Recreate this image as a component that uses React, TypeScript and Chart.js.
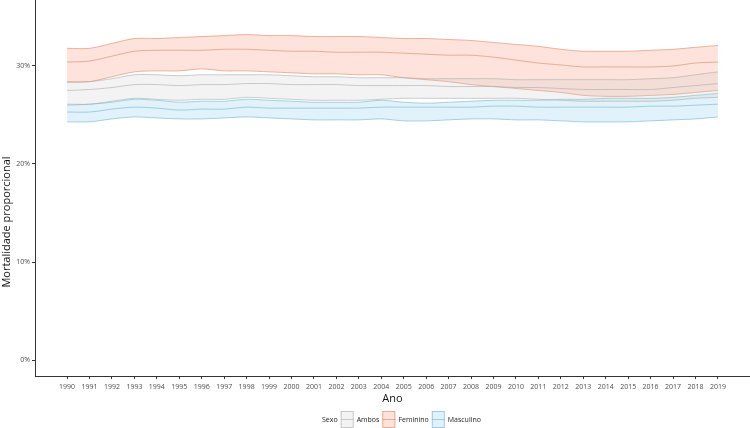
import React, { useEffect, useRef } from "react";
import { Chart, registerables } from "chart.js";

Chart.register(...registerables);

const years = [1990, 1991, 1992, 1993, 1994, 1995, 1996, 1997, 1998, 1999, 2000, 2001, 2002, 2003, 2004, 2005, 2006, 2007, 2008, 2009, 2010, 2011, 2012, 2013, 2014, 2015, 2016, 2017, 2018, 2019];

const femUpper = [31.8, 31.8, 32.3, 32.8, 32.8, 32.9, 33.0, 33.1, 33.2, 33.1, 33.1, 33.0, 33.0, 33.0, 32.9, 32.8, 32.8, 32.7, 32.6, 32.4, 32.2, 32.0, 31.7, 31.5, 31.5, 31.5, 31.6, 31.7, 31.9, 32.1];
const femMid = [30.4, 30.5, 31.0, 31.5, 31.6, 31.6, 31.6, 31.7, 31.7, 31.6, 31.5, 31.5, 31.4, 31.4, 31.4, 31.3, 31.2, 31.1, 31.1, 30.9, 30.6, 30.3, 30.1, 29.9, 29.9, 29.9, 29.9, 30.0, 30.3, 30.4];
const femLower = [28.4, 28.4, 28.9, 29.4, 29.5, 29.5, 29.7, 29.5, 29.5, 29.4, 29.3, 29.2, 29.2, 29.1, 29.1, 28.8, 28.6, 28.4, 28.1, 27.9, 27.7, 27.5, 27.3, 27.0, 26.9, 26.9, 27.0, 27.1, 27.3, 27.5];

const ambosUpper = [28.3, 28.4, 28.7, 29.1, 29.1, 29.0, 29.1, 29.1, 29.1, 29.1, 29.0, 28.9, 28.9, 28.8, 28.8, 28.8, 28.7, 28.7, 28.7, 28.7, 28.6, 28.6, 28.6, 28.6, 28.6, 28.6, 28.7, 28.8, 29.1, 29.4];
const ambosMid = [27.5, 27.6, 27.8, 28.1, 28.1, 28.0, 28.1, 28.1, 28.2, 28.2, 28.1, 28.1, 28.1, 28.0, 28.0, 28.0, 28.0, 27.9, 27.9, 27.9, 27.8, 27.8, 27.7, 27.6, 27.6, 27.6, 27.6, 27.8, 28.0, 28.2];
const ambosLower = [26.1, 26.1, 26.4, 26.7, 26.6, 26.5, 26.6, 26.6, 26.8, 26.7, 26.6, 26.5, 26.5, 26.5, 26.6, 26.7, 26.7, 26.7, 26.7, 26.7, 26.7, 26.6, 26.5, 26.4, 26.4, 26.4, 26.4, 26.5, 26.7, 26.8];

const mascUpper = [26.0, 26.1, 26.3, 26.6, 26.5, 26.3, 26.4, 26.4, 26.6, 26.5, 26.4, 26.3, 26.3, 26.3, 26.5, 26.3, 26.2, 26.3, 26.4, 26.5, 26.5, 26.5, 26.6, 26.6, 26.7, 26.7, 26.7, 26.8, 27.0, 27.2];
const mascMid = [25.3, 25.3, 25.6, 25.8, 25.7, 25.5, 25.6, 25.6, 25.8, 25.7, 25.7, 25.7, 25.7, 25.7, 25.8, 25.8, 25.8, 25.8, 25.8, 25.9, 25.9, 25.8, 25.8, 25.8, 25.8, 25.8, 25.9, 25.9, 26.0, 26.1];
const mascLower = [24.3, 24.3, 24.6, 24.8, 24.7, 24.6, 24.6, 24.7, 24.8, 24.7, 24.6, 24.5, 24.5, 24.5, 24.6, 24.4, 24.4, 24.5, 24.6, 24.6, 24.5, 24.5, 24.4, 24.3, 24.3, 24.3, 24.4, 24.5, 24.6, 24.8];

const yTicks = [0, 10, 20, 30];
const seriesNames = ["Ambos", "Feminino", "Masculino"];
const legendTitle = "Sexo";
const xTitle = "Ano";
const yTitle = "Mortalidade proporcional";

const FONT = "'Open Sans', 'DejaVu Sans', sans-serif";

export default function App() {
  const ref = useRef<HTMLCanvasElement>(null);

  useEffect(() => {
    const canvas = ref.current;
    if (!canvas) return;

    const mk = (vals: number[]) => years.map((y, i) => ({ x: y, y: vals[i] }));

    const groups = [
      { name: seriesNames[0], lower: ambosLower, mid: ambosMid, upper: ambosUpper, line: "rgba(170,170,170,0.85)", fill: "rgba(200,200,200,0.22)" },
      { name: seriesNames[1], lower: femLower, mid: femMid, upper: femUpper, line: "rgba(222,125,90,0.8)", fill: "rgba(245,140,105,0.24)" },
      { name: seriesNames[2], lower: mascLower, mid: mascMid, upper: mascUpper, line: "rgba(110,180,210,0.85)", fill: "rgba(130,200,235,0.24)" },
    ];

    const datasets: any[] = [];
    groups.forEach((g, gi) => {
      const base = gi * 3;
      const common = { borderColor: g.line, borderWidth: 0.7, pointRadius: 0, pointHoverRadius: 0, tension: 0.3 };
      datasets.push({ ...common, label: g.name + " inf", data: mk(g.lower), fill: false });
      datasets.push({ ...common, label: g.name, data: mk(g.mid), fill: false });
      datasets.push({ ...common, label: g.name + " sup", data: mk(g.upper), backgroundColor: g.fill, fill: { target: base, above: g.fill, below: g.fill } });
    });

    const overlay = {
      id: "overlay",
      afterDraw(chart: any) {
        const c = chart.ctx as CanvasRenderingContext2D;
        c.save();
        c.translate(7, 222);
        c.rotate(-Math.PI / 2);
        c.font = `11px ${FONT}`;
        c.fillStyle = "#111";
        c.textAlign = "center";
        c.textBaseline = "middle";
        c.fillText(yTitle, 0, 0);
        c.restore();

        c.save();
        c.font = `7px ${FONT}`;
        c.fillStyle = "#222";
        c.textBaseline = "middle";
        c.textAlign = "left";
        const cy = 419.5;
        let x = 322;
        c.fillText(legendTitle, x, cy);
        x += c.measureText(legendTitle).width + 3;
        groups.forEach((g) => {
          const bw = 13, bh = 17;
          const by = cy - bh / 2;
          c.fillStyle = "#fff";
          c.fillRect(x, by, bw, bh);
          c.fillStyle = g.fill;
          c.fillRect(x, by, bw, bh);
          c.strokeStyle = g.line;
          c.lineWidth = 0.7;
          c.strokeRect(x + 0.5, by + 0.5, bw - 1, bh - 1);
          c.beginPath();
          c.moveTo(x, cy);
          c.lineTo(x + bw, cy);
          c.stroke();
          x += bw + 3;
          c.fillStyle = "#222";
          c.fillText(g.name, x, cy);
          x += c.measureText(g.name).width + 3;
        });
        c.restore();
      },
    };

    const chart = new Chart(canvas, {
      type: "line",
      data: { datasets },
      options: {
        responsive: false,
        animation: false,
        events: [],
        layout: { padding: 0 },
        plugins: {
          legend: { display: false },
          tooltip: { enabled: false },
          filler: { propagate: false },
        },
        scales: {
          x: {
            type: "linear",
            min: 1988.57,
            max: 2020.43,
            afterBuildTicks: (scale: any) => {
              scale.ticks = years.map((v) => ({ value: v }));
            },
            afterFit: (scale: any) => {
              scale.height = 52;
              scale.paddingLeft = 0;
              scale.paddingRight = 0;
            },
            ticks: {
              autoSkip: false,
              maxRotation: 0,
              minRotation: 0,
              padding: 4,
              color: "#4d4d4d",
              font: { family: FONT, size: 7 },
              callback: (v: any) => String(v),
            },
            grid: {
              display: true,
              drawOnChartArea: false,
              drawTicks: true,
              tickLength: 3,
              color: "#333",
              lineWidth: 1,
            },
            border: { display: true, color: "#333", width: 1 },
            title: {
              display: true,
              text: xTitle,
              color: "#111",
              font: { family: FONT, size: 11 },
              padding: { top: 0, bottom: 23 },
            },
          },
          y: {
            type: "linear",
            min: -1.63,
            max: 36.73,
            afterBuildTicks: (scale: any) => {
              scale.ticks = yTicks.map((v) => ({ value: v }));
            },
            afterFit: (scale: any) => {
              scale.width = 35;
              scale.paddingTop = 0;
              scale.paddingBottom = 0;
            },
            ticks: {
              padding: 2,
              color: "#4d4d4d",
              font: { family: FONT, size: 7 },
              callback: (v: any) => `${v}%`,
            },
            grid: {
              display: true,
              drawOnChartArea: false,
              drawTicks: true,
              tickLength: 3,
              color: "#333",
              lineWidth: 1,
            },
            border: { display: true, color: "#333", width: 1 },
          },
        },
      },
      plugins: [overlay],
    });

    return () => chart.destroy();
  }, []);

  return (
    <div style={{ position: "fixed", left: 0, top: 0, width: 750, height: 428, background: "#fff" }}>
      <canvas ref={ref} width={750} height={428} style={{ display: "block", width: 750, height: 428 }} />
    </div>
  );
}
